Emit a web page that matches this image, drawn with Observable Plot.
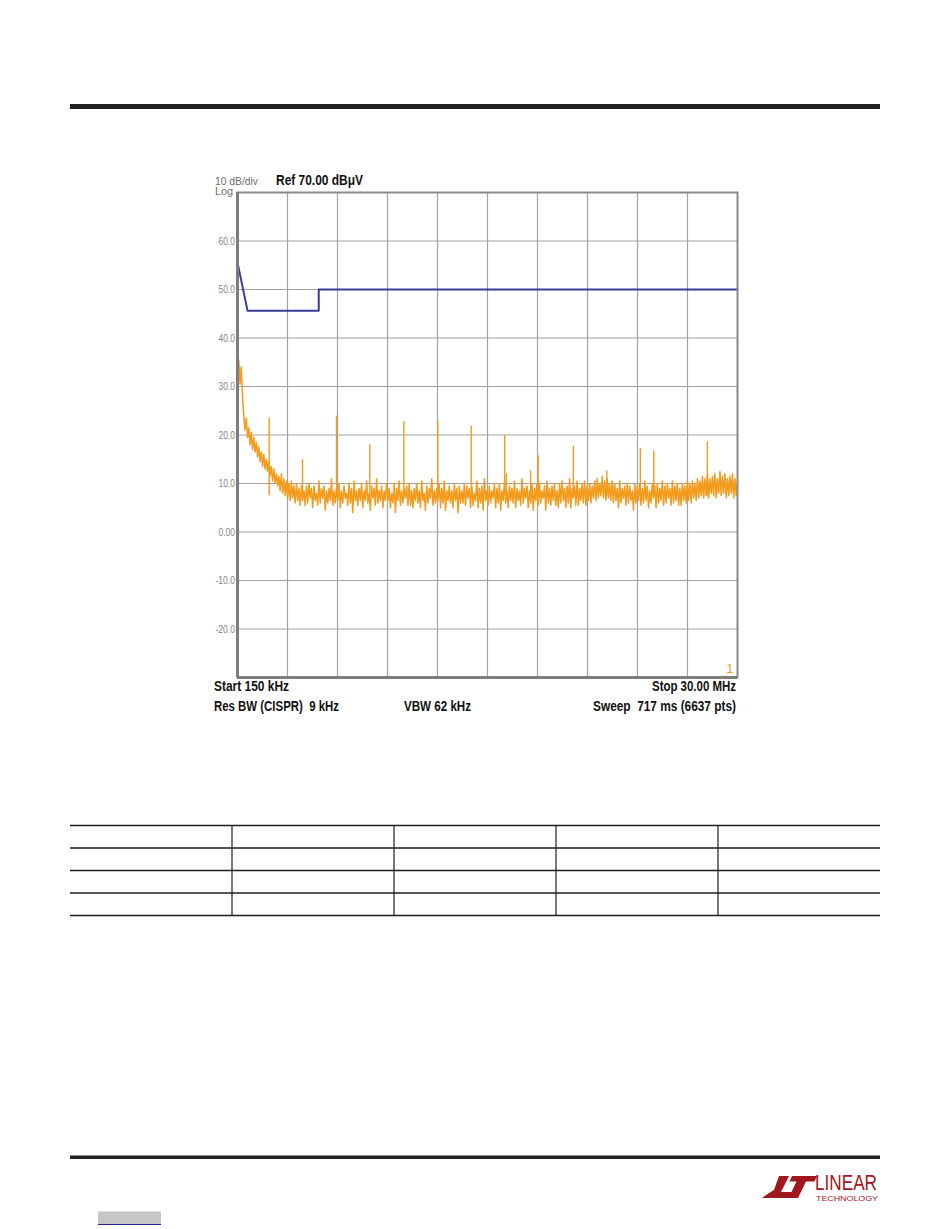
<!DOCTYPE html>
<html><head><meta charset="utf-8">
<script src="https://cdn.jsdelivr.net/npm/d3@7"></script>
<script src="https://cdn.jsdelivr.net/npm/@observablehq/plot@0.6"></script>
<style>
html,body{margin:0;padding:0;background:#fff;}
#page{position:relative;width:950px;height:1229px;overflow:hidden;background:#fff;}
#page svg{position:absolute;left:0;top:0;}
</style></head>
<body><div id="page"></div>
<script>
// ---------------- data ----------------
const sweepStartMHz = 0.15;
const sweepStopMHz = 30.0;
const yTicks = [60, 50, 40, 30, 20, 10, 0, -10, -20];
const yTickLabels = ["60.0", "50.0", "40.0", "30.0", "20.0", "10.0", "0.00", "-10.0", "-20.0"];
const xDivisionsMHz = [3.135, 6.12, 9.105, 12.09, 15.075, 18.06, 21.045, 24.03, 27.015];

const limitFreqMHz = [0.15, 0.75, 5.0, 5.0, 30.0];
const limitLevel = [55.6, 45.6, 45.6, 50.0, 50.0];

const spikeFreqMHz = [2.04, 4.03, 6.06, 8.05, 10.08, 12.11, 14.1, 16.1, 16.2, 17.65, 18.1, 20.2, 22.2, 24.2, 25.0, 28.2];
const spikePeak    = [23.5, 14.9, 23.9, 18.0, 22.8, 22.8, 21.8, 19.9, 12.0, 12.6, 15.7, 17.7, 12.6, 17.2, 16.7, 18.6];
const spikeBase = 7.5;

// trace amplitude (dBµV), read across the sweep from start to stop
const traceLevel = [
33,35.5,30.5,34,28,24,21,23.5,19.5,21.5,18,20.5,17,19.5,16.5,18.5,15.5,17.5,14.5,16.5,
13.5,16,13,15,12.5,14.5,11.5,13.5,10.5,13,10,12,9.5,11.5,8.5,12,8,11,7.5,10.5,
7,10,6.5,10.5,7,9.5,6,10,6.5,9,5.5,9.5,6.5,8.5,5.5,9.5,6,10,7,9,
5,9.5,6.5,8,5.5,10.5,6,9,7,9.5,4.5,8.5,6,9,6.5,11,5.5,8.5,6,9,
6.5,10,5,8.5,6,9.5,7,8,5.5,10,6,9,4,10.5,6.5,8.5,5.5,9,6.5,10,
5,8.5,6.5,10.5,6,8,4.5,9.5,7,9,5.5,11,6,8.5,6.5,9.5,5,8.5,6.5,10,
6.5,9,5,8,6,10,4,9,6.5,10.5,5.5,8.5,6,9,7,9.5,5.5,10,5.5,8.5,
5,9,6.5,10,6,8.5,5,10.5,6.5,8,4.5,9.5,6,9,7,11,5.5,8.5,6,9,
6.5,10,5,9,6,10.5,4.5,8.5,6.5,9.5,6,8.5,5,10,6.5,9,4,9.5,6,8.5,
6,10,5.5,9.5,7,9,5,9.5,5.5,8,6.5,10.5,5,9,6,9.5,4.5,11,6.5,8.5,
5.5,9.5,6,8.5,7,10,5,9,6,10,4.5,8.5,6.5,10.5,6,8.5,5,9.5,6.5,9,
6,10.5,5,9,6.5,8.5,5.5,11,6,9,7,9.5,5,8.5,6,10,4.5,9,6.5,10,
5.5,10,6,8.5,7,9.5,4.5,10.5,6,9,5.5,9.5,6.5,10,5.5,8.5,5,10,6,10.5,
6.5,9,5,9.5,6,11,5,9,7,9.5,5.5,10.5,5.5,9,6.5,10,6,10.5,5.5,9.5,
6.5,10,6,9.5,7,10.5,6.5,11,7,10,7.5,11.5,7,10.5,6.5,11,7,10,6.5,10.5,
6,10,6.5,9,5,10.5,6,9,7,9.5,5.5,10,6,9.5,6.5,8.5,4.5,10,6,9.5,
6.5,10,5.5,9,6,10.5,6.5,9.5,5,8.5,6,10,7,9.5,5,10,6,9,6.5,10.5,
5.5,9.5,6,10,7,9,5.5,10.5,6,9.5,6.5,10,5.5,9,5.5,10,6.5,9.5,6,10.5,
6.5,10,6,10.5,7,10,6.5,11,7,10.5,7.5,11.5,7,11,7.5,12,7,11,8,11.5,
7.5,12,7,11,8,12.5,7.5,11.5,8,12,7,11,7.5,11.5,8,12,7,11,7.5,10.5
];

// ---------------- fonts ----------------
const FONT = `"Liberation Sans", Arial, sans-serif`;

// ---------------- tables for the library ----------------
const step = (sweepStopMHz - sweepStartMHz) / (traceLevel.length - 1);
const traceRows = traceLevel.map((v, i) => ({f: sweepStartMHz + i * step, v}));
const limitRows = limitFreqMHz.map((f, i) => ({f, v: limitLevel[i]}));
const spikeRows = spikeFreqMHz.map((f, i) => ({f, peak: spikePeak[i], base: spikeBase}));

const ORANGE = "#f39b1c";
const BLUE = "#383d95";

const chart = Plot.plot({
  width: 950,
  height: 740,
  marginLeft: 237,
  marginRight: 213,
  marginTop: 192,
  marginBottom: 63,
  style: {fontFamily: FONT, background: "transparent"},
  x: {domain: [sweepStartMHz, sweepStopMHz], axis: null},
  y: {domain: [-30, 70], label: null},
  marks: [
    Plot.gridX(xDivisionsMHz, {stroke: "#a2a2a2", strokeOpacity: 1, strokeWidth: 1.2}),
    Plot.gridY(yTicks, {stroke: "#a2a2a2", strokeOpacity: 1, strokeWidth: 1.2}),
    Plot.axisY(yTicks, {
      tickSize: 0, tickPadding: 2.5, label: null, fontSize: 11, fill: "#858585",
      tickFormat: d => yTickLabels[yTicks.indexOf(d)]
    }),
    Plot.line(traceRows, {x: "f", y: "v", stroke: ORANGE, strokeWidth: 1.5}),
    Plot.ruleX(spikeRows, {x: "f", y1: "base", y2: "peak", stroke: ORANGE, strokeWidth: 1.4}),
    Plot.line(limitRows, {x: "f", y: "v", stroke: BLUE, strokeWidth: 2}),
    Plot.frame({stroke: "#8a8a8a", strokeWidth: 2}),
    Plot.ruleX([sweepStartMHz], {stroke: "#7d7d7d", strokeWidth: 3}),
    Plot.ruleY([-30], {stroke: "#7d7d7d", strokeWidth: 3}),
    Plot.text(["1"], {frameAnchor: "bottom-right", dx: -4, dy: -5, fill: ORANGE, fontSize: 13})
  ]
});
document.getElementById("page").appendChild(chart);
// condense the tick labels like the analyser's narrow face
d3.select(chart).selectAll("g[aria-label='y-axis tick label'] text").each(function() {
  const t = this.textContent;
  this.setAttribute("textLength", t.length >= 5 ? 19.5 : 16.5);
  this.setAttribute("lengthAdjust", "spacingAndGlyphs");
});

// ---------------- page overlay (texts, rules, table, logo) ----------------
const NS = "http://www.w3.org/2000/svg";
const ov = document.createElementNS(NS, "svg");
ov.setAttribute("width", 950); ov.setAttribute("height", 1229);
ov.style.pointerEvents = "none";
document.getElementById("page").appendChild(ov);
function el(tag, attrs, text) {
  const e = document.createElementNS(NS, tag);
  for (const k in attrs) e.setAttribute(k, attrs[k]);
  if (text != null) e.textContent = text;
  ov.appendChild(e);
  return e;
}
function txt(s, x, y, size, weight, fill, len, anchor) {
  const a = {x, y, "font-size": size, "font-weight": weight, fill, "font-family": FONT,
    style: "white-space:pre", "text-anchor": anchor || "start"};
  if (len) { a.textLength = len; a.lengthAdjust = "spacingAndGlyphs"; }
  return el("text", a, s);
}

// header / footer bars
el("rect", {x: 70, y: 104, width: 810, height: 5, fill: "#222"});
el("rect", {x: 70, y: 1155.5, width: 810, height: 3.5, fill: "#222"});

// chart annotations
txt("10 dB/div", 215, 184.5, 11.5, 400, "#6e6e6e", 43);
txt("Log", 215, 194.5, 11.5, 400, "#6e6e6e", 18);
txt("Ref 70.00 dB\u03bcV", 276, 185, 15, 700, "#111", 87);
txt("Start 150 kHz", 214, 691, 14.5, 700, "#111", 75);
txt("Stop 30.00 MHz", 736, 691, 14.5, 700, "#111", 84, "end");
txt("Res BW (CISPR)  9 kHz", 214, 711, 14.5, 700, "#111", 125);
txt("VBW 62 kHz", 404, 711, 14.5, 700, "#111", 67);
txt("Sweep  717 ms (6637 pts)", 736, 711, 14.5, 700, "#111", 143, "end");

// empty table
const tableRowsY = [825.5, 848, 870.5, 893, 915.5];
const tableColsX = [232, 394, 556, 718];
tableRowsY.forEach(y => el("line", {x1: 70, x2: 880, y1: y, y2: y, stroke: "#1e1e1e", "stroke-width": 1.5}));
tableColsX.forEach(x => el("line", {x1: x, x2: x, y1: 825.5, y2: 915.5, stroke: "#1e1e1e", "stroke-width": 1.2}));

// logo
const RED = "#a0171d";
el("polygon", {points: "779,1176 789,1176 781,1192 795,1192 792,1198 762,1198 769,1193 774,1190", fill: RED});
el("polygon", {points: "792,1176 817,1176 814.5,1181.5 806,1181.5 798,1198 788.5,1198 796.5,1181.5 789.5,1181.5", fill: RED});
txt("LINEAR", 815, 1189.5, 22, 400, RED, 62);
txt("TECHNOLOGY", 816, 1201, 6.5, 400, RED, 62);

// page tab
el("rect", {x: 98, y: 1211.5, width: 63, height: 12.5, fill: "#c6c6c6"});
el("line", {x1: 98, x2: 161, y1: 1224.5, y2: 1224.5, stroke: "#2323a0", "stroke-width": 1});
</script>
</body></html>
